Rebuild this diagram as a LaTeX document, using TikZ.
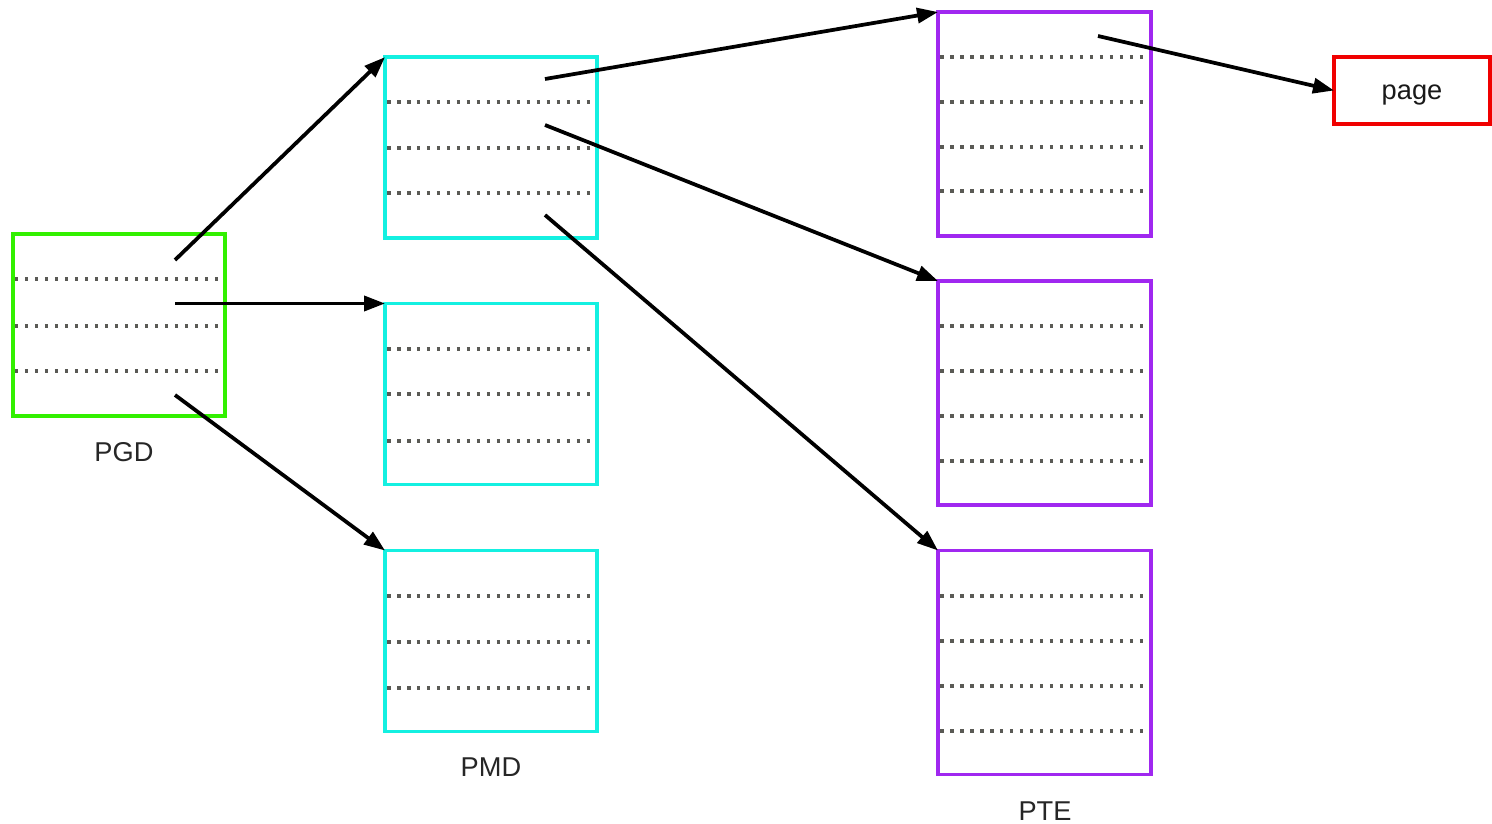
\documentclass[tikz,border=0pt]{standalone}
\usepackage{fontspec}
\setmainfont{Liberation Sans}
\usetikzlibrary{arrows.meta}
\definecolor{pgdgreen}{RGB}{50,240,0}
\definecolor{pmdcyan}{RGB}{20,240,225}
\definecolor{ptepurple}{RGB}{160,40,240}
\definecolor{pagered}{RGB}{240,0,0}
\definecolor{dotgray}{RGB}{90,90,85}
\begin{document}
\begin{tikzpicture}[x=0.02cm,y=-0.02cm,
  tbl/.style={draw,rectangle,line width=0.075cm,inner sep=0pt,outer sep=0pt,fill=none},
  pgdbox/.style={tbl,draw=pgdgreen,minimum width=4.24cm,minimum height=3.64cm},
  pmdbox/.style={tbl,draw=pmdcyan,minimum width=4.24cm,minimum height=3.62cm},
  ptebox/.style={tbl,draw=ptepurple,minimum width=4.26cm,minimum height=4.48cm},
  pagebox/.style={tbl,draw=pagered,minimum width=3.12cm,minimum height=1.34cm,font=\fontsize{15.5}{17}\selectfont,text=black!90},
  lbl/.style={font=\fontsize{15.5}{17}\selectfont,text=black!85,inner sep=0pt},
  dotline/.style={draw=dotgray,line width=0.07cm,dash pattern=on 0.07cm off 0.13cm},
  ptr/.style={draw=black,line width=0.075cm,-{Triangle[length=0.42cm,width=0.3cm]}}
]
\useasboundingbox (0,0) rectangle (1492,824);

% boxes
\node[pgdbox] (pgd) at (119,325) {};
\node[pmdbox] (pmda) at (491,147.5) {};
\node[pmdbox] (pmdb) at (491,394) {};
\node[pmdbox] (pmdc) at (491,641) {};
\node[ptebox] (ptea) at (1044.5,124) {};
\node[ptebox] (pteb) at (1044.5,393) {};
\node[ptebox] (ptec) at (1044.5,662.5) {};
\node[pagebox] (page) at (1412,90.5) {\raisebox{-0.19cm}[0pt][0pt]{page}};

% dotted entry separators
\foreach \y in {279,326,371} \draw[dotline] (15,\y) -- (221,\y);
\foreach \y in {102,148,193} \draw[dotline] (387,\y) -- (593,\y);
\foreach \y in {349,394,441} \draw[dotline] (387,\y) -- (593,\y);
\foreach \y in {596,642,688} \draw[dotline] (387,\y) -- (593,\y);
\foreach \y in {57,102,147,191} \draw[dotline] (940,\y) -- (1147,\y);
\foreach \y in {326,371,416,461} \draw[dotline] (940,\y) -- (1147,\y);
\foreach \y in {596,641,686,731} \draw[dotline] (940,\y) -- (1147,\y);

% labels
\node[lbl] (pgdlbl) at (124,452) {PGD};
\node[lbl] (pmdlbl) at (491,767) {PMD};
\node[lbl] (ptelbl) at (1045,811) {PTE};

% pointer origins
\coordinate (g1) at (175,260);
\coordinate (g2) at (175,303.5);
\coordinate (g3) at (175,395);
\coordinate (m1) at (545,79);
\coordinate (m2) at (545,125);
\coordinate (m3) at (545,215);
\coordinate (t1) at (1098,36);

% pointers
\draw[ptr] (g1) -- ([shift={(0,0.1)}]pmda.north west);
\draw[ptr] (g2) -- (g2 -| pmdb.west);
\draw[ptr] (g3) -- (pmdc.north west);
\draw[ptr] (m1) -- (ptea.north west);
\draw[ptr] (m2) -- (pteb.north west);
\draw[ptr] (m3) -- (ptec.north west);
\draw[ptr] (t1) -- (page.west);
\end{tikzpicture}
\end{document}
